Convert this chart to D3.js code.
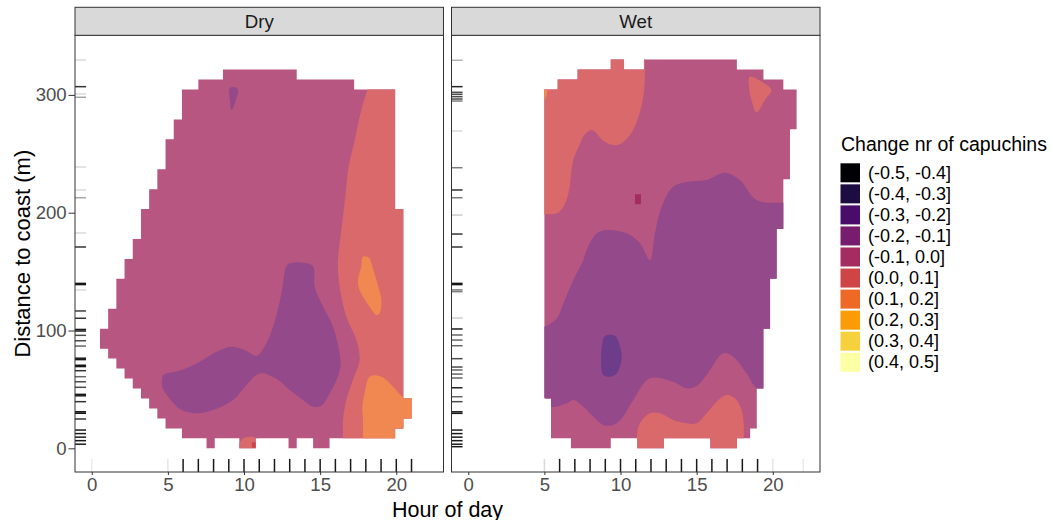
<!DOCTYPE html>
<html>
<head>
<meta charset="utf-8">
<script src="https://cdn.jsdelivr.net/npm/d3@7"></script>
<style>
  html, body { margin: 0; padding: 0; background: #ffffff; }
  svg { display: block; font-family: "Liberation Sans", Arial, Helvetica, sans-serif; }
</style>
</head>
<body>
<svg id="chart" width="1051" height="520"></svg>
<script>
// ------------------------------------------------------------------
// Data
// ------------------------------------------------------------------
const facetNames = ["Dry", "Wet"];
const bandLabels = ["(-0.5, -0.4]", "(-0.4, -0.3]", "(-0.3, -0.2]", "(-0.2, -0.1]", "(-0.1, 0.0]",
                    "(0.0, 0.1]", "(0.1, 0.2]", "(0.2, 0.3]", "(0.3, 0.4]", "(0.4, 0.5]"];
const legendTitle = "Change nr of capuchins";
const hourTicks = [0, 5, 10, 15, 20];
const distTicks = [0, 100, 200, 300];

// interpolation grid (40 x 40) of each season
const gridSize = 40;
const dryHourRange = [0, 21];
const wetHourRange = [5, 22];
const distRange = [0, 330];

// grid cells holding estimates: [row, first column, last column]
const dryMaskRows = [
  [0, 14, 15], [0, 18, 20], [0, 24, 25], [0, 27, 29],
  [1, 11, 37], [2, 9, 38], [3, 8, 39], [4, 7, 39], [5, 6, 38], [6, 5, 38], [7, 4, 38],
  [8, 3, 38], [9, 2, 38], [10, 1, 38], [11, 1, 38], [12, 2, 38], [13, 2, 38], [14, 3, 38],
  [15, 3, 38], [16, 3, 38], [17, 4, 38], [18, 4, 38], [19, 5, 38], [20, 5, 38], [21, 6, 38],
  [22, 6, 38], [23, 6, 38], [24, 7, 37], [25, 7, 37], [26, 8, 37], [27, 8, 37], [28, 9, 37],
  [29, 9, 37], [30, 9, 37], [31, 10, 37], [32, 10, 37], [33, 11, 37], [34, 11, 37],
  [35, 11, 37], [36, 13, 32], [37, 16, 25]
];
const wetMaskRows = [
  [0, 4, 10], [0, 14, 18], [0, 25, 29],
  [1, 1, 31], [2, 1, 32], [3, 1, 32], [4, 1, 32], [5, 0, 32],
  [6, 0, 33], [7, 0, 33], [8, 0, 33], [9, 0, 33], [10, 0, 33], [11, 0, 33],
  [12, 0, 34], [13, 0, 34], [14, 0, 34], [15, 0, 34], [16, 0, 34],
  [17, 0, 35], [18, 0, 35], [19, 0, 35], [20, 0, 35], [21, 0, 35],
  [22, 0, 36], [23, 0, 36], [24, 0, 36], [25, 0, 36], [26, 0, 36],
  [27, 0, 37], [28, 0, 37], [29, 0, 37], [30, 0, 37], [31, 0, 37],
  [32, 0, 38], [33, 0, 38], [34, 0, 38], [35, 0, 38],
  [36, 2, 36], [37, 5, 33], [38, 10, 12], [38, 15, 29]
];

// contour band outlines, [hour, distance (m)]
const dryRedEast = [[18.4, 335], [18.22, 312], [18.08, 303.9], [17.7, 287.2], [17.27, 261.7],
  [16.83, 236.2], [16.72, 222.1], [16.5, 196.6], [16.17, 159.9], [16.17, 151.4], [16.28, 137.2],
  [16.72, 111.7], [17.38, 91.9], [17.59, 75], [17.15, 58], [16.72, 41], [16.5, 24], [16.5, 9.3],
  [16.5, -10], [16.6, -25], [26, -25], [26, 335]];
const dryOrangeMid = [[17.81, 162.7], [18.25, 161.3], [18.36, 157], [18.69, 142.9], [19.02, 125.9],
  [18.9, 114.6], [18.69, 113.2], [18.25, 120.2], [17.59, 134.4], [17.48, 142.9], [17.7, 154.2]];
const dryOrangeLow = [[17.81, -25], [17.81, 9.3], [17.81, 24], [17.77, 35.3], [17.92, 46.7],
  [18.25, 60.8], [18.9, 61.4], [19.34, 58], [19.89, 50.9], [20.43, 43.8], [21.5, 44.5],
  [23, 40], [23, -25]];
const dryPurpleLow = [[4.63, 59.4], [4.70, 62.2], [5.90, 66.5], [7.10, 73.5], [8.20, 82.0],
  [9.18, 86.2], [10.05, 83.4], [10.82, 78.4], [11.36, 86.8], [11.91, 103.2], [12.46, 131.6],
  [12.83, 155.6], [13.22, 157.6], [13.88, 157.6], [14.53, 154.8], [14.64, 137.2], [15.08, 123.1],
  [15.84, 103.2], [16.28, 80.6], [16.33, 69.3], [16.07, 58.0], [15.63, 46.7], [15.08, 36.2],
  [14.53, 35.3], [13.88, 41.0], [13.0, 49.5], [12.24, 58.0], [11.25, 63.7], [10.82, 62.2],
  [10.16, 53.7], [9.29, 41.0], [7.97, 32.5], [6.99, 29.7], [5.90, 32.5], [5.02, 43.8],
  [4.63, 52.3]];
const dryPurpleTop = [[9.07, 305.6], [9.40, 306.5], [9.61, 304.2], [9.46, 295.7], [9.18, 287.2],
  [9.07, 295.7]];
const dryRedFloor = [[9.5, -15], [9.6, 0], [9.72, 5], [9.95, 8.6], [10.3, 9.7], [10.7, 9.3],
  [11.0, 7], [11.1, -15]];
const drySpotCell = [[10.52, 0.5], [10.78, 5.1]];

const wetRedNorthwest = [[11.65, 345], [11.61, 329.6], [11.56, 305.6], [11.28, 285.7],
  [10.62, 266.0], [9.79, 257.5], [8.98, 260.0], [8.11, 270.2], [7.6, 265.5], [7.34, 258.5],
  [6.90, 244.7], [6.58, 216.5], [6.25, 205.1], [5.82, 199.5], [5.0, 198.5], [4.2, 198],
  [3.5, 200], [3.5, 345]];
const wetOrangeCorner = [[4.3, 312], [5.22, 312], [5.2, 304.1], [5.0, 295.6], [4.3, 295]];
const wetRedNortheast = [[18.49, 315.5], [19.26, 311.3], [19.91, 304.2], [19.48, 295.7],
  [18.93, 285.2], [18.6, 295.7], [18.44, 306.9]];
const wetPurple = [[23, 209], [20.68, 208.5], [18.93, 210.8], [17.84, 227.8], [16.85, 234.0],
  [15.65, 227.8], [14.45, 226.3], [13.46, 222.1], [12.70, 205.1], [12.26, 182.5], [11.93, 159.8],
  [11.28, 174.0], [10.41, 182.5], [9.10, 185.3], [8.44, 182.5], [7.78, 168.4], [7.56, 159.9],
  [6.90, 142.9], [6.25, 123.1], [5.82, 110.4], [5.0, 103.2], [4.0, 102], [4.0, 44], [5.0, 43],
  [5.44, 35.3], [6.47, 38.2], [6.90, 41.0], [7.56, 35.3], [8.22, 26.8], [8.87, 19.8],
  [9.53, 19.8], [10.08, 25.5], [10.84, 41.0], [11.93, 59.4], [13.46, 56.5], [14.34, 50.9],
  [15.0, 52.9], [15.65, 62.2], [16.74, 80.6], [17.40, 77.8], [18.28, 63.7], [18.93, 50.9],
  [20, 45], [23, 45]];
const wetDeepPurple = [[8.98, 95.4], [9.64, 95.4], [9.97, 86.2], [10.08, 76.4], [9.75, 63.7],
  [9.31, 60.8], [8.87, 62.2], [8.72, 75.0], [8.81, 89.1]];
const wetRedSouth = [[11.0, -25], [11.06, 9.0], [11.28, 21.2], [11.93, 29.7], [12.59, 29.7],
  [13.46, 24.0], [14.34, 21.2], [15.0, 21.2], [15.65, 29.7], [16.31, 39.6], [16.96, 45.2],
  [17.51, 42.4], [17.95, 32.5], [18.10, 18.3], [18.10, 9.0], [18.1, -25]];
const wetSpotCell = [[10.95, 207.2], [11.34, 215.7]];

// observation rugs: positions and shade (darker where observations pile up)
const rugDryDist = [329.6, 307, 300.8, 298, 238.8, 219.3, 212.7, 182.8, 170.9, 140, 139, 134.4,
  116.6, 110.4, 100.9, 99.6, 95.9, 91.3, 86.8, 76.5, 75.3, 70.5, 69.4, 65.9, 60.8, 56.5, 51.8,
  45.8, 44.6, 39.6, 31, 29.8, 24.9, 15.5, 12.5, 9.5, 6.5, 3.5];
const rugDryDistShade = [.15, .8, .15, .35, .15, .15, .35, .15, .8, .9, .9, .15,
  .75, .8, .9, .9, .7, .7, .6, .9, .9, .9, .9, .8, .6, .7, .7,
  .9, .9, .8, .95, .95, .8, .9, .9, .9, .9, .9];
const rugWetDist = [329.4, 307, 302.2, 300.5, 298.5, 296.5, 294.8, 269.4, 238.2, 219.3, 212.7,
  198, 181.9, 170.9, 140, 139, 134.5, 133, 110.6, 101.3, 96.2, 91.9, 87.1, 76.1, 69, 66.5, 63,
  59.7, 51.4, 43.8, 39.6, 31, 29.7, 15.5, 12.5, 9.5, 6.5, 3.5, 1.4];
const rugWetDistShade = [.3, .85, .7, .7, .7, .7, .5, .15, .5, .8, .5,
  .2, .8, .8, .9, .9, .5, .5, .2, .9, .6, .6, .6, .7, .7, .6, .6,
  .6, .85, .6, .7, .9, .9, .9, .9, .9, .9, .9, .9];
const rugDryHour = [0, 5, 6, 7, 8, 9, 10, 11, 12, 13, 14, 15, 16, 17, 18, 19, 20, 21];
const rugDryHourShade = [.08, .1, .9, .9, .9, .9, .9, .9, .9, .9, .9, .9, .9, .9, .9, .9, .9, .9];
const rugWetHour = [5, 6, 7, 8, 9, 10, 11, 12, 13, 14, 15, 16, 17, 18, 19, 20, 22];
const rugWetHourShade = [.15, .9, .9, .9, .9, .9, .9, .9, .9, .9, .9, .9, .9, .9, .9, .1, .08];

// ------------------------------------------------------------------
// Layout and styling
// ------------------------------------------------------------------
const panelTop = 35.3, panelBottom = 472, stripTop = 7.3;
const panelX = [[75, 443.5], [451.5, 820]];
const fillAlpha = 0.8;
const bandColor = k => d3.interpolateInferno(k / (bandLabels.length - 1));
const bandFill = k => d3.interpolateRgb("#ffffff", bandColor(k))(fillAlpha);

const facets = [
  {
    name: facetNames[0], hours: dryHourRange, mask: dryMaskRows, base: 4,
    rings: [
      { band: 5, pts: dryRedEast }, { band: 6, pts: dryOrangeMid }, { band: 6, pts: dryOrangeLow },
      { band: 3, pts: dryPurpleLow }, { band: 3, pts: dryPurpleTop }, { band: 5, pts: dryRedFloor }
    ],
    spots: [{ band: 5, cell: drySpotCell }],
    rugDist: rugDryDist, rugDistShade: rugDryDistShade,
    rugHour: rugDryHour, rugHourShade: rugDryHourShade
  },
  {
    name: facetNames[1], hours: wetHourRange, mask: wetMaskRows, base: 4,
    rings: [
      { band: 5, pts: wetRedNorthwest }, { band: 6, pts: wetOrangeCorner }, { band: 5, pts: wetRedNortheast },
      { band: 3, pts: wetPurple }, { band: 2, pts: wetDeepPurple }, { band: 5, pts: wetRedSouth }
    ],
    spots: [{ band: 4, cell: wetSpotCell }],
    rugDist: rugWetDist, rugDistShade: rugWetDistShade,
    rugHour: rugWetHour, rugHourShade: rugWetHourShade
  }
];

const svg = d3.select("#chart");
const defs = svg.append("defs");

const y = d3.scaleLinear().domain([-20.1, 350.6]).range([panelBottom, panelTop]);
const gridDist = j => distRange[0] + j * (distRange[1] - distRange[0]) / (gridSize - 1);

facets.forEach((f, fi) => {
  const [x0, x1] = panelX[fi];
  const x = d3.scaleLinear().domain([-1.1, 23.1]).range([x0, x1]);
  const gridHour = i => f.hours[0] + i * (f.hours[1] - f.hours[0]) / (gridSize - 1);

  // area covered by the interpolation grid
  const maskPath = f.mask.map(([r, i0, i1]) => {
    const xa = x(gridHour(i0)), xb = x(gridHour(i1));
    const ya = y(gridDist(r + 1)), yb = y(gridDist(r));
    return `M${xa},${ya}H${xb}V${yb}H${xa}Z`;
  }).join("");

  const clipId = "clip-" + f.name;
  defs.append("clipPath").attr("id", clipId).append("path").attr("d", maskPath);

  const g = svg.append("g");

  // panel background
  g.append("rect").attr("x", x0).attr("y", panelTop)
    .attr("width", x1 - x0).attr("height", panelBottom - panelTop).attr("fill", "#ffffff");

  // base band over the whole grid
  g.append("path").attr("d", maskPath).attr("fill", bandFill(f.base));

  // other bands, clipped to the grid
  const bands = g.append("g").attr("clip-path", `url(#${clipId})`);
  const ring = d3.line().x(p => x(p[0])).y(p => y(p[1]))
    .curve(d3.curveCatmullRomClosed.alpha(0.5));
  f.rings.forEach(r => {
    bands.append("path").attr("d", ring(r.pts)).attr("fill", bandFill(r.band));
  });
  f.spots.forEach(s => {
    const [[ha, da], [hb, db]] = s.cell;
    bands.append("rect")
      .attr("x", x(ha)).attr("y", y(db))
      .attr("width", x(hb) - x(ha)).attr("height", y(da) - y(db))
      .attr("fill", bandColor(s.band));
  });

  // rugs
  const rugW = 0.03 * (x1 - x0), rugH = 0.03 * (panelBottom - panelTop);
  g.append("g").selectAll("line").data(f.rugDist).join("line")
    .attr("x1", x0).attr("x2", x0 + rugW)
    .attr("y1", d => y(d)).attr("y2", d => y(d))
    .attr("stroke", "#000").attr("stroke-width", 1.5)
    .attr("stroke-opacity", (d, i) => f.rugDistShade[i]);
  g.append("g").selectAll("line").data(f.rugHour).join("line")
    .attr("y1", panelBottom - rugH).attr("y2", panelBottom)
    .attr("x1", d => x(d)).attr("x2", d => x(d))
    .attr("stroke", "#000").attr("stroke-width", 1.5)
    .attr("stroke-opacity", (d, i) => f.rugHourShade[i]);

  // panel border
  g.append("rect").attr("x", x0).attr("y", panelTop)
    .attr("width", x1 - x0).attr("height", panelBottom - panelTop)
    .attr("fill", "none").attr("stroke", "#333333").attr("stroke-width", 1);

  // strip
  g.append("rect").attr("x", x0).attr("y", stripTop)
    .attr("width", x1 - x0).attr("height", panelTop - stripTop)
    .attr("fill", "#d9d9d9").attr("stroke", "#333333").attr("stroke-width", 1);
  g.append("text").attr("x", (x0 + x1) / 2).attr("y", (stripTop + panelTop) / 2)
    .attr("text-anchor", "middle").attr("dominant-baseline", "central")
    .attr("font-size", 18.7).attr("fill", "#1a1a1a").text(f.name);

  // x axis
  const xAxis = g.append("g").attr("transform", `translate(0,${panelBottom})`)
    .call(d3.axisBottom(x).tickValues(hourTicks).tickSize(3).tickPadding(3.1));
  xAxis.select(".domain").remove();
  xAxis.selectAll("line").attr("stroke", "#333333");
  xAxis.selectAll("text").attr("font-size", 18.6).attr("fill", "#4d4d4d")
    .attr("font-family", "Liberation Sans, Arial, sans-serif");

  // y axis on the first panel only
  if (fi === 0) {
    const yAxis = g.append("g").attr("transform", `translate(${x0},0)`)
      .call(d3.axisLeft(y).tickValues(distTicks).tickSize(6.5).tickPadding(1.8));
    yAxis.select(".domain").remove();
    yAxis.selectAll("line").attr("stroke", "#333333");
    yAxis.selectAll("text").attr("font-size", 18.6).attr("fill", "#4d4d4d")
      .attr("font-family", "Liberation Sans, Arial, sans-serif");
  }
});

// axis titles
svg.append("text").attr("x", (panelX[0][0] + panelX[1][1]) / 2).attr("y", 516.5)
  .attr("text-anchor", "middle").attr("font-size", 21.5).attr("fill", "#000")
  .text("Hour of day");
svg.append("text")
  .attr("transform", `translate(30,${(panelTop + panelBottom) / 2}) rotate(-90)`)
  .attr("text-anchor", "middle").attr("font-size", 22).attr("fill", "#000")
  .text("Distance to coast (m)");

// legend
const legend = svg.append("g");
legend.append("text").attr("x", 841).attr("y", 151)
  .attr("font-size", 19.5).attr("fill", "#000").text(legendTitle);
const keyY = k => 163.3 + k * 21.05;
legend.selectAll("rect.key").data(bandLabels).join("rect").attr("class", "key")
  .attr("x", 840.5).attr("y", (d, i) => keyY(i)).attr("width", 19.5).attr("height", 19)
  .attr("fill", (d, i) => bandColor(i));
legend.selectAll("text.lab").data(bandLabels).join("text").attr("class", "lab")
  .attr("x", 868).attr("y", (d, i) => keyY(i) + 9.5).attr("dominant-baseline", "central")
  .attr("font-size", 18).attr("fill", "#000").text(d => d);
</script>
</body>
</html>
